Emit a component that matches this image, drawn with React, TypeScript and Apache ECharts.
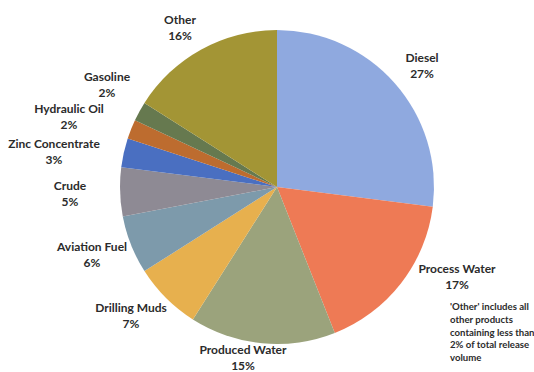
import React, { useEffect, useRef } from "react";
import * as echarts from "echarts";

const categories = [
  "Diesel",
  "Process Water",
  "Produced Water",
  "Drilling Muds",
  "Aviation Fuel",
  "Crude",
  "Zinc Concentrate",
  "Hydraulic Oil",
  "Gasoline",
  "Other",
];
const values = [27, 17, 15, 7, 6, 5, 3, 2, 2, 16];
const colors = [
  "#8fa9df",
  "#ee7a55",
  "#9ba37c",
  "#e7b04e",
  "#7d9aab",
  "#8e8a94",
  "#4a6fc1",
  "#bd6c2f",
  "#66794f",
  "#a39535",
];
const noteLines = [
  "'Other' includes all",
  "other products",
  "containing less than",
  "2% of total release",
  "volume",
];

const CX = 277;
const CY = 187;
const R = 157;
// label block centres (layout only, as placed in the reference)
const labelPlacement: [number, number][] = [
  [422, 65],
  [457, 276],
  [243, 357],
  [131, 315],
  [92, 254],
  [70, 193],
  [54, 151],
  [69, 116],
  [107, 84],
  [180, 27],
];

export default function App() {
  const ref = useRef<HTMLDivElement>(null);
  useEffect(() => {
    if (!ref.current) return;
    const chart = echarts.init(ref.current, null, { renderer: "svg" });
    const data = categories.map((name, i) => ({
      name,
      value: values[i],
      itemStyle: { color: colors[i] },
    }));
    chart.setOption({
      animation: false,
      backgroundColor: "#ffffff",
      series: [
        {
          type: "pie",
          center: [CX, CY],
          radius: R,
          startAngle: 90,
          clockwise: true,
          silent: true,
          avoidLabelOverlap: false,
          itemStyle: { borderWidth: 0 },
          label: {
            show: true,
            position: "outside",
            formatter: "{b}\n{c}%",
            fontFamily: "Lato",
            fontWeight: "bold",
            fontSize: 12,
            lineHeight: 16,
            color: "#2b2b2b",
            align: "center",
          },
          labelLine: { show: false },
          labelLayout: (p: any) => {
            const pos = labelPlacement[p.dataIndex];
            return {
              x: pos[0],
              y: pos[1],
              align: "center",
              verticalAlign: "middle",
            };
          },
          data,
        },
      ],
      graphic: [
        {
          type: "text",
          left: 450,
          top: 300,
          style: {
            text: noteLines.join("\n"),
            fontFamily: "Lato",
            fontWeight: "bold",
            fontSize: 9.6,
            lineHeight: 12.8,
            fill: "#2b2b2b",
          },
        },
      ],
    });
    return () => chart.dispose();
  }, []);
  return (
    <div
      ref={ref}
      style={{ position: "fixed", left: 0, top: 0, width: 534, height: 372 }}
    />
  );
}
